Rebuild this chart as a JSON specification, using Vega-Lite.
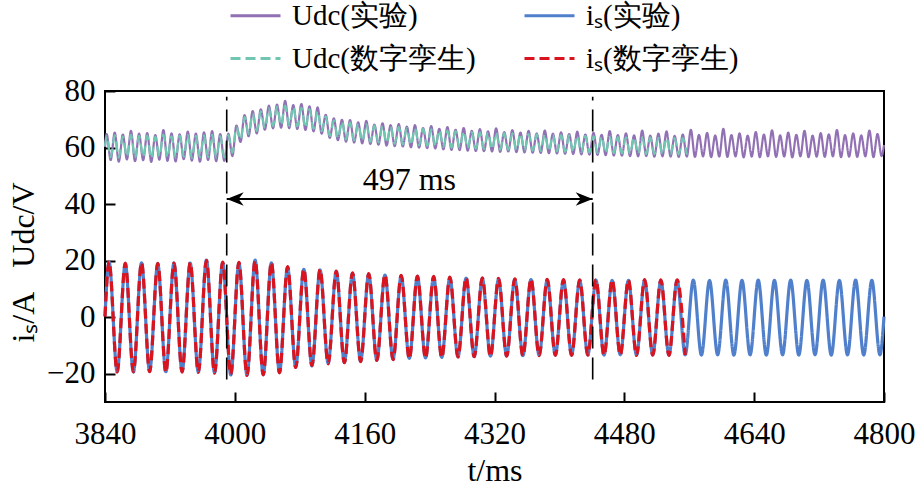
{
"$schema": "https://vega.github.io/schema/vega-lite/v6.json",
"width": 779,
"height": 311,
"autosize": "none",
"padding": {"left": 105, "top": 91, "right": 33, "bottom": 89},
"background": "#ffffff",
"config": {
  "font": "Liberation Serif",
  "view": {"stroke": "#000000", "strokeWidth": 2},
  "axis": {"domain": false, "grid": false, "ticks": true, "tickColor": "#000000", "tickWidth": 2, "tickSize": -10, "labelColor": "#000000", "labelFontSize": 31, "labelFont": "Liberation Serif", "titleFont": "Liberation Serif", "titleFontSize": 32, "titleColor": "#000000", "titleFontWeight": "normal"},
  "legend": {"orient": "none", "legendX": 124, "legendY": -102, "direction": "horizontal", "columns": 2, "gridAlign": "each", "symbolType": "stroke", "symbolSize": 2500, "symbolStrokeWidth": 3, "labelFontSize": 29, "labelFont": "Liberation Serif", "labelColor": "#000000", "labelOffset": 10, "columnPadding": 42, "rowPadding": 1, "padding": 0, "labelLimit": 400}
},
"datasets": {
"udc": [
{"t":3840,"e":60.2,"d":60.6},{"t":3842,"e":64.8,"d":64.0},{"t":3847,"e":55.6,"d":56.6},{"t":3852,"e":65.3,"d":64.3},{"t":3857,"e":55.0,"d":56.4},{"t":3862,"e":64.6,"d":63.9},{"t":3867,"e":55.8,"d":56.8},{"t":3872,"e":65.9,"d":64.5},{"t":3877,"e":55.2,"d":56.3},{"t":3882,"e":64.9,"d":64.1},{"t":3887,"e":55.5,"d":56.7},{"t":3892,"e":65.1,"d":64.2},{"t":3897,"e":54.9,"d":56.2},{"t":3902,"e":64.4,"d":63.8},{"t":3907,"e":55.7,"d":56.9},{"t":3912,"e":66.2,"d":64.6},{"t":3917,"e":55.3,"d":56.5},{"t":3922,"e":65.0,"d":64.0},{"t":3927,"e":55.1,"d":56.4},{"t":3932,"e":64.7,"d":64.2},{"t":3937,"e":55.9,"d":56.8},{"t":3942,"e":65.6,"d":64.4},{"t":3947,"e":55.4,"d":56.3},{"t":3952,"e":64.9,"d":64.1},{"t":3957,"e":55.0,"d":56.5},{"t":3962,"e":65.4,"d":64.3},{"t":3967,"e":55.6,"d":56.6},{"t":3972,"e":65.8,"d":64.5},{"t":3977,"e":55.2,"d":56.4},{"t":3982,"e":64.8,"d":64.0},{"t":3987,"e":55.3,"d":56.5},{"t":3992,"e":64.9,"d":64.4},{"t":3997,"e":57.0,"d":58.2},
{"t":4002,"e":67.8,"d":67.2},{"t":4007,"e":62.0,"d":62.8},{"t":4012,"e":71.5,"d":70.8},{"t":4017,"e":64.0,"d":64.8},{"t":4022,"e":72.9,"d":72.0},{"t":4027,"e":65.0,"d":65.9},{"t":4032,"e":73.5,"d":72.8},{"t":4037,"e":66.3,"d":66.9},{"t":4042,"e":74.8,"d":73.9},{"t":4047,"e":66.8,"d":67.6},{"t":4052,"e":75.2,"d":74.5},{"t":4057,"e":67.0,"d":67.9},{"t":4062,"e":76.5,"d":74.8},{"t":4067,"e":66.9,"d":67.7},{"t":4072,"e":75.0,"d":74.4},{"t":4077,"e":66.6,"d":67.5},{"t":4082,"e":75.4,"d":74.0},{"t":4087,"e":66.2,"d":67.0},{"t":4092,"e":74.6,"d":73.6},{"t":4097,"e":65.7,"d":66.6},{"t":4102,"e":74.2,"d":72.9},{"t":4107,"e":64.9,"d":65.8},{"t":4112,"e":71.6,"d":71.0},{"t":4117,"e":63.4,"d":64.1},{"t":4122,"e":70.3,"d":69.6},{"t":4127,"e":62.6,"d":63.3},{"t":4132,"e":69.8,"d":69.2},{"t":4137,"e":62.1,"d":62.9},{"t":4142,"e":69.7,"d":68.8},{"t":4147,"e":61.8,"d":62.5},{"t":4152,"e":68.9,"d":68.4},{"t":4157,"e":61.5,"d":62.3},{"t":4162,"e":69.4,"d":68.2},{"t":4167,"e":61.3,"d":62.0},{"t":4172,"e":68.1,"d":67.8},{"t":4177,"e":61.0,"d":61.8},{"t":4182,"e":68.6,"d":67.6},{"t":4187,"e":60.7,"d":61.6},{"t":4192,"e":67.9,"d":67.3},{"t":4197,"e":60.5,"d":61.3},
{"t":4202,"e":68.3,"d":67.2},{"t":4207,"e":60.4,"d":61.1},{"t":4212,"e":67.4,"d":66.9},{"t":4217,"e":60.1,"d":60.9},{"t":4222,"e":67.9,"d":66.8},{"t":4227,"e":60.0,"d":60.8},{"t":4232,"e":66.9,"d":66.6},{"t":4237,"e":59.8,"d":60.6},{"t":4242,"e":67.6,"d":66.4},{"t":4247,"e":59.7,"d":60.4},{"t":4252,"e":66.6,"d":66.2},{"t":4257,"e":59.4,"d":60.2},{"t":4262,"e":67.2,"d":66.0},{"t":4267,"e":59.2,"d":60.0},{"t":4272,"e":66.3,"d":65.8},{"t":4277,"e":59.1,"d":59.9},{"t":4282,"e":66.9,"d":65.7},{"t":4287,"e":58.9,"d":59.7},{"t":4292,"e":65.9,"d":65.5},{"t":4297,"e":58.8,"d":59.6},{"t":4302,"e":66.5,"d":65.4},{"t":4307,"e":58.7,"d":59.5},{"t":4312,"e":65.7,"d":65.3},{"t":4317,"e":58.6,"d":59.4},{"t":4322,"e":66.8,"d":65.2},{"t":4327,"e":58.5,"d":59.3},{"t":4332,"e":65.5,"d":65.1},{"t":4337,"e":58.6,"d":59.2},{"t":4342,"e":66.2,"d":65.0},{"t":4347,"e":58.4,"d":59.1},{"t":4352,"e":65.3,"d":64.9},{"t":4357,"e":58.3,"d":59.0},{"t":4362,"e":65.9,"d":64.8},{"t":4367,"e":58.2,"d":58.9},{"t":4372,"e":65.0,"d":64.7},{"t":4377,"e":58.1,"d":58.8},{"t":4382,"e":66.0,"d":64.6},{"t":4387,"e":58.0,"d":58.7},{"t":4392,"e":64.9,"d":64.5},{"t":4397,"e":57.9,"d":58.6},
{"t":4402,"e":65.4,"d":64.4},{"t":4407,"e":57.8,"d":58.5},{"t":4412,"e":64.8,"d":64.3},{"t":4417,"e":57.7,"d":58.4},{"t":4422,"e":65.6,"d":64.2},{"t":4427,"e":57.6,"d":58.3},{"t":4432,"e":64.6,"d":64.1},{"t":4437,"e":57.5,"d":58.2},{"t":4442,"e":65.2,"d":64.0},{"t":4447,"e":57.4,"d":58.1},{"t":4452,"e":64.5,"d":63.9},{"t":4457,"e":57.3,"d":58.0},{"t":4462,"e":65.8,"d":63.8},{"t":4467,"e":57.2,"d":58.0},{"t":4472,"e":64.4,"d":63.7},{"t":4477,"e":57.1,"d":57.9},{"t":4482,"e":65.0,"d":63.6},{"t":4487,"e":57.0,"d":57.8},{"t":4492,"e":64.3,"d":63.6},{"t":4497,"e":56.9,"d":57.8},{"t":4502,"e":66.0,"d":63.5},{"t":4507,"e":57.0,"d":57.7},{"t":4512,"e":64.2,"d":63.5},{"t":4517,"e":56.8,"d":57.7},{"t":4522,"e":64.9,"d":63.4},{"t":4527,"e":56.9,"d":57.6},{"t":4532,"e":65.7,"d":63.4},{"t":4537,"e":56.8,"d":57.6},{"t":4542,"e":64.1,"d":63.3},{"t":4547,"e":56.7,"d":57.6},{"t":4552,"e":64.6,"d":63.3},{"t":4557,"e":56.8,"d":57.5},
{"t":4562,"e":66.3},{"t":4567,"e":56.7},{"t":4572,"e":64.5},{"t":4577,"e":56.9},{"t":4582,"e":65.2},{"t":4587,"e":56.6},{"t":4592,"e":64.3},{"t":4597,"e":56.8},{"t":4602,"e":66.6},{"t":4607,"e":56.7},{"t":4612,"e":64.4},{"t":4617,"e":56.9},{"t":4622,"e":65.0},{"t":4627,"e":56.5},{"t":4632,"e":64.2},{"t":4637,"e":56.8},{"t":4642,"e":65.5},{"t":4647,"e":56.6},{"t":4652,"e":64.6},{"t":4657,"e":56.9},{"t":4662,"e":66.1},{"t":4667,"e":56.7},{"t":4672,"e":64.3},{"t":4677,"e":56.8},{"t":4682,"e":65.3},{"t":4687,"e":56.5},{"t":4692,"e":64.5},{"t":4697,"e":56.9},{"t":4702,"e":65.9},{"t":4707,"e":56.6},{"t":4712,"e":64.2},{"t":4717,"e":56.8},{"t":4722,"e":65.1},{"t":4727,"e":56.7},{"t":4732,"e":64.7},{"t":4737,"e":56.9},{"t":4742,"e":66.2},{"t":4747,"e":56.6},{"t":4752,"e":64.4},{"t":4757,"e":56.8},{"t":4762,"e":65.0},{"t":4767,"e":56.7},{"t":4772,"e":64.3},{"t":4777,"e":56.9},{"t":4782,"e":66.0},{"t":4787,"e":56.6},{"t":4792,"e":64.8},{"t":4797,"e":57.0},{"t":4800,"e":60.9}
],
"is": [
{"t":3840,"e":0.4,"d":0.2},{"t":3845,"e":19.5,"d":19.6},{"t":3855,"e":-19.2,"d":-19.4},{"t":3865,"e":18.9,"d":19.1},{"t":3875,"e":-19.4,"d":-19.3},{"t":3885,"e":19.2,"d":19.3},{"t":3895,"e":-19.1,"d":-19.3},{"t":3905,"e":18.9,"d":19.0},{"t":3915,"e":-19.3,"d":-19.5},{"t":3925,"e":19.2,"d":19.1},{"t":3935,"e":-19.2,"d":-19.4},{"t":3945,"e":19.1,"d":19.3},{"t":3955,"e":-19.4,"d":-19.5},{"t":3965,"e":20.2,"d":20.0},{"t":3975,"e":-19.6,"d":-19.8},{"t":3985,"e":19.3,"d":19.5},{"t":3995,"e":-20.4,"d":-20.2},
{"t":4005,"e":19.2,"d":19.4},{"t":4015,"e":-20.5,"d":-20.6},{"t":4025,"e":20.2,"d":20.0},{"t":4035,"e":-20.3,"d":-20.4},{"t":4045,"e":19.2,"d":19.4},{"t":4055,"e":-19.5,"d":-19.7},{"t":4065,"e":17.7,"d":17.9},{"t":4075,"e":-17.6,"d":-17.8},{"t":4085,"e":16.9,"d":17.0},{"t":4095,"e":-17.2,"d":-17.1},{"t":4105,"e":16.7,"d":16.9},{"t":4115,"e":-16.3,"d":-16.5},{"t":4125,"e":16.2,"d":16.3},{"t":4135,"e":-16.0,"d":-16.1},{"t":4145,"e":15.5,"d":15.7},{"t":4155,"e":-15.6,"d":-15.7},{"t":4165,"e":15.2,"d":15.4},{"t":4175,"e":-15.2,"d":-15.3},{"t":4185,"e":14.9,"d":15.0},{"t":4195,"e":-14.9,"d":-15.0},
{"t":4205,"e":14.6,"d":14.8},{"t":4215,"e":-14.6,"d":-14.7},{"t":4225,"e":14.4,"d":14.5},{"t":4235,"e":-14.4,"d":-14.5},{"t":4245,"e":14.2,"d":14.4},{"t":4255,"e":-14.2,"d":-14.3},{"t":4265,"e":14.0,"d":14.2},{"t":4275,"e":-14.0,"d":-14.1},{"t":4285,"e":13.8,"d":14.0},{"t":4295,"e":-13.9,"d":-14.0},{"t":4305,"e":13.7,"d":13.9},{"t":4315,"e":-13.8,"d":-13.9},{"t":4325,"e":13.5,"d":13.7},{"t":4335,"e":-13.7,"d":-13.8},{"t":4345,"e":13.4,"d":13.6},{"t":4355,"e":-13.6,"d":-13.7},{"t":4365,"e":13.3,"d":13.5},{"t":4375,"e":-13.5,"d":-13.6},{"t":4385,"e":13.2,"d":13.4},{"t":4395,"e":-13.4,"d":-13.5},
{"t":4405,"e":13.1,"d":13.3},{"t":4415,"e":-13.4,"d":-13.5},{"t":4425,"e":13.0,"d":13.2},{"t":4435,"e":-13.3,"d":-13.4},{"t":4445,"e":13.1,"d":13.3},{"t":4455,"e":-13.4,"d":-13.5},{"t":4465,"e":13.0,"d":13.2},{"t":4475,"e":-13.3,"d":-13.4},{"t":4485,"e":13.0,"d":13.2},{"t":4495,"e":-13.4,"d":-13.5},{"t":4505,"e":13.1,"d":13.3},{"t":4515,"e":-13.3,"d":-13.4},{"t":4525,"e":13.0,"d":13.2},{"t":4535,"e":-13.4,"d":-13.5},{"t":4545,"e":13.0,"d":13.2},{"t":4555,"e":-13.3,"d":-13.4},
{"t":4565,"e":13.1},{"t":4575,"e":-13.4},{"t":4585,"e":13.0},{"t":4595,"e":-13.3},{"t":4605,"e":13.1},{"t":4615,"e":-13.4},{"t":4625,"e":13.0},{"t":4635,"e":-13.3},{"t":4645,"e":13.1},{"t":4655,"e":-13.4},{"t":4665,"e":13.0},{"t":4675,"e":-13.3},{"t":4685,"e":13.1},{"t":4695,"e":-13.4},{"t":4705,"e":13.0},{"t":4715,"e":-13.3},{"t":4725,"e":13.1},{"t":4735,"e":-13.4},{"t":4745,"e":13.0},{"t":4755,"e":-13.3},{"t":4765,"e":13.1},{"t":4775,"e":-13.4},{"t":4785,"e":13.0},{"t":4795,"e":-13.3},{"t":4800,"e":0.2}
],
"marks": [{"t":3990},{"t":4441}],
"span": [{"start":3990,"end":4441,"level":41.8}],
"note": [{"t":4215,"v":45,"label":"497 ms"}]
},
"layer": [
{"data": {"name": "udc"}, "mark": {"type": "line", "interpolate": "monotone", "strokeWidth": 2.2},
 "encoding": {
  "x": {"field": "t", "type": "quantitative", "title": "t/ms", "scale": {"domain": [3840, 4800], "nice": false, "zero": false}, "axis": {"values": [3840, 4000, 4160, 4320, 4480, 4640, 4800], "format": "d", "labelPadding": 27, "titleY": 78, "titleBaseline": "alphabetic", "labelFlush": false, "labelOverlap": false}},
  "y": {"field": "e", "type": "quantitative", "title": "iₛ/A\u00a0\u00a0\u00a0Udc/V", "scale": {"domain": [-30, 80], "nice": false, "zero": false}, "axis": {"values": [-20, 0, 20, 40, 60, 80], "labelPadding": 20, "titleX": -72, "titleY": 171, "titleAngle": 270, "titleAlign": "center", "titleBaseline": "alphabetic", "labelFlush": false}},
  "color": {"datum": "Udc(实验)", "scale": {"domain": ["Udc(实验)", "iₛ(实验)", "Udc(数字孪生)", "iₛ(数字孪生)"], "range": ["#9170B4", "#5080CC", "#70C6B0", "#D9141E"]}, "legend": {"title": null}},
  "strokeDash": {"datum": "Udc(实验)", "scale": {"domain": ["Udc(实验)", "iₛ(实验)", "Udc(数字孪生)", "iₛ(数字孪生)"], "range": [[1, 0], [1, 0], [10, 5], [10, 5]]}, "legend": {"title": null}}
 }},
{"data": {"name": "is"}, "mark": {"type": "line", "interpolate": "monotone", "strokeWidth": 3.2},
 "encoding": {
  "x": {"field": "t", "type": "quantitative"},
  "y": {"field": "e", "type": "quantitative"},
  "color": {"datum": "iₛ(实验)"},
  "strokeDash": {"datum": "iₛ(实验)"}
 }},
{"data": {"name": "udc"}, "mark": {"type": "line", "interpolate": "monotone", "strokeWidth": 2.2},
 "encoding": {
  "x": {"field": "t", "type": "quantitative"},
  "y": {"field": "d", "type": "quantitative"},
  "color": {"datum": "Udc(数字孪生)"},
  "strokeDash": {"datum": "Udc(数字孪生)"}
 }},
{"data": {"name": "is"}, "mark": {"type": "line", "interpolate": "monotone", "strokeWidth": 3.2},
 "encoding": {
  "x": {"field": "t", "type": "quantitative"},
  "y": {"field": "d", "type": "quantitative"},
  "color": {"datum": "iₛ(数字孪生)"},
  "strokeDash": {"datum": "iₛ(数字孪生)"}
 }},
{"data": {"name": "marks"}, "mark": {"type": "rule", "color": "#000000", "strokeWidth": 1.6, "strokeDash": [22, 9]},
 "encoding": {
  "x": {"field": "t", "type": "quantitative"},
  "y": {"datum": -22, "type": "quantitative"},
  "y2": {"datum": 78}
 }},
{"data": {"name": "span"}, "mark": {"type": "rule", "color": "#000000", "strokeWidth": 2},
 "encoding": {
  "x": {"field": "start", "type": "quantitative"},
  "x2": {"field": "end"},
  "y": {"field": "level", "type": "quantitative"}
 }},
{"data": {"name": "span"}, "mark": {"type": "point", "shape": "M0,0L2,-0.78L1.4,0L2,0.78Z", "size": 289, "filled": true, "color": "#000000", "opacity": 1, "strokeWidth": 0},
 "encoding": {
  "x": {"field": "start", "type": "quantitative"},
  "y": {"field": "level", "type": "quantitative"}
 }},
{"data": {"name": "span"}, "mark": {"type": "point", "shape": "M0,0L-2,-0.78L-1.4,0L-2,0.78Z", "size": 289, "filled": true, "color": "#000000", "opacity": 1, "strokeWidth": 0},
 "encoding": {
  "x": {"field": "end", "type": "quantitative"},
  "y": {"field": "level", "type": "quantitative"}
 }},
{"data": {"name": "note"}, "mark": {"type": "text", "fontSize": 32, "font": "Liberation Serif", "baseline": "alphabetic", "align": "center", "color": "#000000"},
 "encoding": {
  "x": {"field": "t", "type": "quantitative"},
  "y": {"field": "v", "type": "quantitative"},
  "text": {"field": "label"}
 }}
]
}
